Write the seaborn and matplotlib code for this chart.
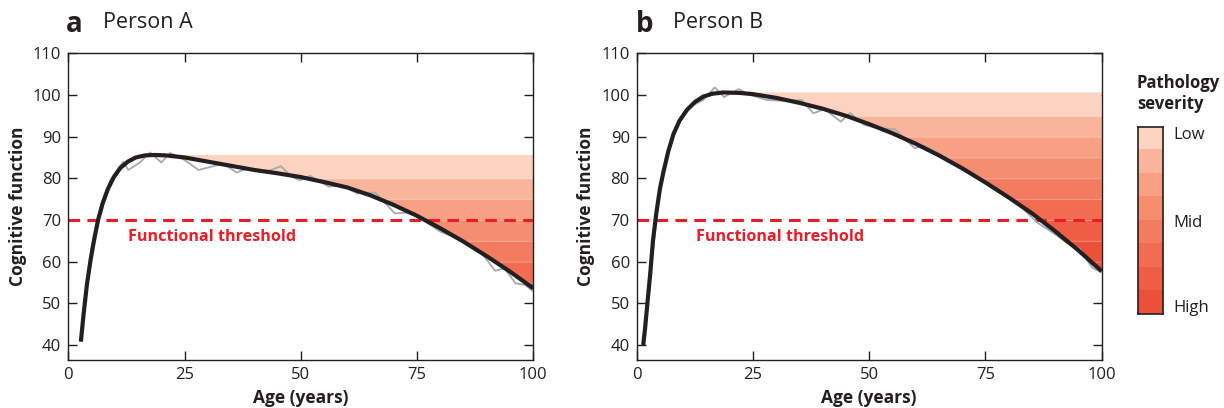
import numpy as np
import pandas as pd
import matplotlib
matplotlib.use("Agg")
import matplotlib.pyplot as plt
import seaborn as sns

# ---- Person A: smooth trajectory and yearly measurements ----
age_fit_a = [2.7, 3.3, 4.0, 4.8, 5.6, 6.4, 7.4, 8.5, 9.8, 11.2, 12.8, 14.5, 16.5, 18.5,
             21, 25, 30, 35, 40, 45, 50, 55, 60, 65, 70, 75, 80, 85, 90, 95, 100]
cog_fit_a = [40.8, 47.5, 54.5, 60.5, 65.5, 70.0, 74.0, 77.4, 80.3, 82.5, 84.0, 85.0, 85.5, 85.6,
             85.5, 85.0, 84.0, 83.0, 82.0, 81.2, 80.3, 79.1, 77.8, 75.9, 73.6, 71.0, 68.0, 64.8,
             61.3, 57.6, 53.6]
age_obs_a = [3, 5, 7, 9, 11.8, 12.9, 15.3, 17.6, 20.0, 21.9, 25.0, 28.0, 31.2, 33.3, 36.2, 38.5,
             42.7, 45.7, 48.0, 49.8, 52.0, 56.0, 59.0, 62.0, 66.0, 70.2, 74.2, 77.1, 80.0, 84.2,
             89.2, 91.8, 93.8, 96.2, 98.3, 100]
cog_obs_a = [44.0, 63.5, 73.5, 79.5, 84.0, 82.0, 83.7, 86.2, 83.8, 86.1, 84.4, 82.0, 82.9, 83.5,
             81.4, 82.4, 81.6, 82.9, 80.4, 79.5, 80.6, 78.0, 78.3, 76.4, 76.6, 71.6, 71.8, 69.4,
             67.2, 65.4, 61.6, 57.8, 58.4, 54.8, 54.4, 52.8]

# ---- Person B ----
age_fit_b = [1.4, 1.8, 2.3, 2.9, 3.5, 4.2, 5.0, 5.8, 6.8, 7.9, 9.2, 10.8, 12.5, 14.3, 16.3, 18.6,
             22, 25, 30, 35, 40, 45, 50, 55, 60, 65, 70, 75, 80, 85, 90, 95, 100]
cog_fit_b = [40.0, 44.0, 50.0, 57.0, 65.0, 71.5, 77.5, 81.8, 86.5, 90.6, 93.8, 96.4, 98.3, 99.6,
             100.3, 100.6, 100.5, 100.2, 99.3, 98.1, 96.7, 95.0, 93.0, 90.8, 88.3, 85.5, 82.4,
             79.0, 75.4, 71.6, 67.3, 62.7, 57.7]
age_obs_b = [1.5, 3, 5, 7, 9, 11, 14.3, 16.8, 18.8, 21.9, 24.4, 28.0, 31.5, 35.5, 38.0, 40.4,
             43.9, 45.9, 49.0, 52.0, 55.5, 59.8, 61.6, 65.9, 70, 73, 76.9, 80, 83, 86.0, 90.2,
             92.5, 95.3, 97.9, 100]
cog_obs_b = [40.5, 58.0, 77.5, 87.0, 93.5, 96.8, 98.8, 101.8, 99.5, 101.4, 100.0, 98.8, 98.6,
             98.8, 95.6, 96.6, 93.6, 95.7, 92.8, 92.0, 91.8, 87.2, 87.9, 85.4, 82.2, 80.3, 77.9,
             75.3, 72.8, 69.5, 66.4, 64.5, 63.1, 58.6, 57.4]

# Upper edge of each pathology band (from peak function downwards)
severity_levels_a = [85.6, 80, 75, 70, 65, 60, 55]
severity_levels_b = [100.6, 95, 90, 85, 80, 75, 70, 65, 60]
severity_colors = ["#fcd3c0", "#f9b59b", "#f7a084", "#f58d70",
                   "#f37c60", "#f16c51", "#ef5e44", "#ed5038"]
severity_labels = ["Low", "Mid", "High"]

threshold = 70
x_ticks = [0, 25, 50, 75, 100]
y_ticks = [40, 50, 60, 70, 80, 90, 100, 110]

INK = "#231f20"
RED = "#ed1c24"
GREY = "#a7a9ac"

sns.set_style("ticks")
plt.rcParams["font.family"] = ["Open Sans", "DejaVu Sans"]

W, H = 1224, 408
fig = plt.figure(figsize=(W / 100, H / 100), dpi=100)


def draw_panel(ax, age_fit, cog_fit, age_obs, cog_obs, levels):
    x = np.asarray(age_fit, dtype=float)
    y = np.asarray(cog_fit, dtype=float)
    after_peak = x >= x[np.argmax(y)]
    # stacked severity bands between the declining trajectory and the peak level
    for i, top in enumerate(levels):
        color = severity_colors[min(i, len(severity_colors) - 1)]
        ax.fill_between(x, y, top, where=after_peak & (y <= top), interpolate=True,
                        facecolor=color, edgecolor=(1, 1, 1, 0.35) if i else "none",
                        lw=0.6 if i else 0, zorder=1)
    ax.axhline(threshold, color=RED, lw=2.2, dashes=(3.8, 2.4), zorder=2)
    obs = pd.DataFrame({"age": age_obs, "cog": cog_obs})
    fit = pd.DataFrame({"age": age_fit, "cog": cog_fit})
    sns.lineplot(data=obs, x="age", y="cog", ax=ax, color=GREY, lw=1.3,
                 estimator=None, sort=False, zorder=3)
    sns.lineplot(data=fit, x="age", y="cog", ax=ax, color=INK, lw=3.0,
                 estimator=None, sort=False, zorder=4, solid_capstyle="butt")
    ax.text(12.8, 65.8, "Functional threshold", color=RED, fontsize=11.6,
            fontweight="bold", va="center", ha="left", zorder=5)

    ax.set_xlim(0, 100)
    ax.set_ylim(36.4, 110)
    ax.set_xticks(x_ticks)
    ax.set_yticks(y_ticks)
    ax.tick_params(direction="in", length=6.5, width=1.0, top=True, right=True,
                   labelsize=12, colors=INK, pad=5)
    for s in ax.spines.values():
        s.set_color(INK)
        s.set_linewidth(1.0)
    ax.set_xlabel("Age (years)", fontsize=12.5, fontweight="bold", color=INK)
    ax.set_ylabel("Cognitive function", fontsize=12.5, fontweight="bold", color=INK)
    ax.xaxis.set_label_coords(0.5, -0.095)
    ax.yaxis.set_label_coords(-0.089, 0.5)


ax_a = fig.add_axes([68.3 / W, 1 - 360 / H, 465 / W, 306.7 / H])
ax_b = fig.add_axes([636.7 / W, 1 - 360 / H, 465 / W, 306.7 / H])
draw_panel(ax_a, age_fit_a, cog_fit_a, age_obs_a, cog_obs_a, severity_levels_a)
draw_panel(ax_b, age_fit_b, cog_fit_b, age_obs_b, cog_obs_b, severity_levels_b)

# panel headings
for px, letter, name_x, name in [(66, "a", 103, "Person A"), (636, "b", 673, "Person B")]:
    fig.text(px / W, 1 - 24 / H, letter, fontsize=20, fontweight="bold", color=INK,
             va="center", ha="left")
    fig.text(name_x / W, 1 - 23 / H, name, fontsize=15.5, color=INK, va="center", ha="left")

# severity scale
cax = fig.add_axes([1138.3 / W, 1 - 314 / H, 25 / W, 187.3 / H])
cax.imshow(np.arange(len(severity_colors))[:, None],
           cmap=matplotlib.colors.ListedColormap(severity_colors),
           aspect="auto", interpolation="nearest")
cax.set_xticks([])
cax.set_yticks([])
for s in cax.spines.values():
    s.set_color(INK)
    s.set_linewidth(1.2)
fig.text(1137 / W, 1 - 83 / H, "Pathology", fontsize=12, fontweight="bold",
         color=INK, va="center", ha="left")
fig.text(1137 / W, 1 - 104 / H, "severity", fontsize=12, fontweight="bold",
         color=INK, va="center", ha="left")
for lab, yy in zip(severity_labels, [135, 223, 308]):
    fig.text(1173 / W, 1 - yy / H, lab, fontsize=12, color=INK, va="center", ha="left")

fig.savefig("out.png", dpi=100)
